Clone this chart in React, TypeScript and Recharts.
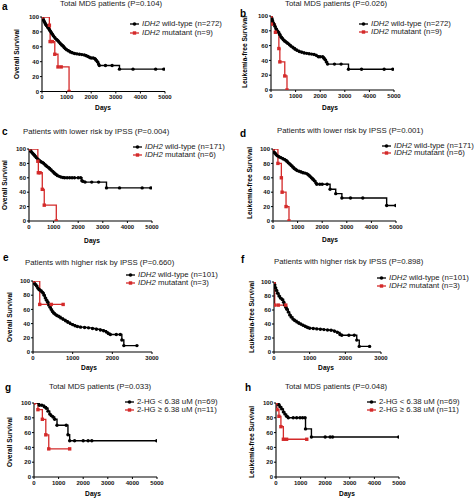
import React from 'react';
import { LineChart, Line, XAxis, YAxis } from 'recharts';

// ---------- DATA (days, survival %) ----------
const aWildType = [[0,100],[30,98],[60,96],[90,94],[120,92],[150,90],[180,88.5],[220,87],[260,85],[300,83],[340,81],[380,79],[420,77],[460,75],[500,73],[550,71],[600,69.5],[650,68],[700,66],[750,64],[800,62.5],[850,61],[900,59],[950,57.5],[1000,56],[1080,54.5],[1150,53],[1230,52],[1320,51],[1420,50.5],[1520,50],[1620,49.5],[1720,49],[1800,48],[1870,47],[1940,45.5],[2000,45],[2080,45],[2150,44],[2200,42],[2250,40],[2300,37],[2330,35],[2580,35],[2850,35],[3150,30],[3700,30],[4620,30],[4950,30]];
const aMutant = [[0,100],[300,89],[330,67],[420,67],[520,50],[650,33],[780,33],[1100,0]];

const bWildType = [[0,100],[30,97],[60,94],[90,91],[120,89],[160,86],[200,83],[250,80],[300,78],[350,75],[400,72],[450,70],[500,68],[560,66],[620,64.5],[680,63],[750,61],[820,59],[900,57],[980,55],[1060,53.5],[1150,52],[1250,51],[1350,50],[1450,49.5],[1550,49],[1650,48.5],[1750,48],[1850,46.5],[1930,45],[2000,45],[2100,45],[2150,43],[2200,41],[2250,38],[2300,35],[2580,35],[2850,35],[3150,28],[3680,28],[4600,28],[4950,28]];
const bMutant = [[0,100],[20,89],[180,78],[320,56],[360,38],[560,19],[650,0]];

const cWildType = [[0,100],[40,98],[80,96.5],[120,95],[160,93.5],[200,92],[250,90],[300,88],[350,86],[400,84.5],[450,83],[500,82],[560,81],[620,79],[680,77],[740,75.5],[800,74],[860,72],[920,70],[980,68],[1040,66],[1100,64.5],[1160,63],[1230,62],[1300,61],[1380,60.5],[1450,60],[1550,60],[1650,60],[1750,60],[1850,60],[2000,60],[2100,60],[2150,56],[2200,55],[2280,54],[2550,54],[2830,54],[3150,46],[3680,46],[4600,46],[4950,46]];
const cMutant = [[0,100],[360,83],[380,67],[450,67],[540,44],[620,22],[1110,0]];

const dWildType = [[0,100],[30,96],[80,94],[130,92],[180,90.5],[250,89],[320,88],[400,86.5],[480,85],[560,83],[620,81],[680,79],[740,77],[800,75],[860,73],[920,71.5],[980,70],[1060,69],[1140,68],[1220,67],[1300,66.5],[1380,65.5],[1440,64],[1500,62],[1560,60],[1620,58],[1680,56],[1740,53],[1780,51],[1900,51],[2000,51],[2200,51],[2320,44],[2550,38],[2800,32],[3150,32],[3650,32],[4620,21.5],[4990,21.5]];
const dMutant = [[0,100],[200,80],[340,60],[370,40],[530,20],[650,0]];

const eWildType = [[0,100],[30,97],[60,95],[90,93],[120,90],[150,88],[180,87],[220,85],[250,83],[280,80],[310,76],[340,73],[370,70],[400,66],[430,63],[460,60],[490,57],[520,55],[560,53],[600,51.5],[650,50],[700,48],[760,46],[820,44],[880,42],[940,40],[1000,38.5],[1060,37],[1120,36],[1200,35],[1300,34.5],[1400,34],[1500,33],[1600,32],[1700,31],[1780,30],[1850,28],[1900,26],[1950,24.6],[2100,24.6],[2200,24.6],[2240,17],[2290,9],[2620,9]];
const eMutant = [[0,100],[170,67],[460,67],[760,67]];

const fWildType = [[0,100],[20,96],[40,92],[70,88],[100,84],[140,80],[180,77],[230,75],[270,71],[300,67],[330,64],[360,61],[400,57],[440,53],[480,50],[530,47],[580,45],[640,43],[700,41],[760,39.5],[820,38],[880,36.5],[940,35],[1000,34],[1100,33.5],[1200,33],[1300,32.5],[1400,32],[1500,31.5],[1600,31],[1700,29.5],[1780,28],[1850,25],[1900,24],[2100,24],[2250,24],[2320,17],[2390,8],[2680,8]];
const fMutant = [[0,100],[20,67],[120,67],[330,67]];

const gLow = [[0,100],[180,100],[220,97],[320,97],[420,95],[500,93],[570,89],[640,85],[700,83],[770,81],[840,78],[935,70],[1310,70],[1380,57],[1450,49],[1650,49],[2000,49],[2200,49],[2350,49],[4990,49]];
const gHigh = [[0,100],[160,91],[340,78],[480,57],[600,38],[1450,38]];

const hLow = [[0,100],[60,99],[100,98],[160,95],[230,92],[300,88],[360,85],[430,82],[500,80],[700,80],[840,80],[975,80],[1080,80],[1180,80],[1200,65],[1440,54],[2000,54],[2200,54],[2300,54],[4990,54]];
const hHigh = [[0,100],[40,91],[120,82],[200,68],[300,51],[430,51],[1250,51]];

const titles = [
  'Total MDS patients (P=0.104)',
  'Total MDS patients (P=0.026)',
  'Patients with lower risk by IPSS (P=0.004)',
  'Patients with lower risk by IPSS (P=0.001)',
  'Patients with higher risk by IPSS (P=0.660)',
  'Patients with higher risk by IPSS (P=0.898)',
  'Total MDS patients (P=0.033)',
  'Total MDS patients (P=0.048)',
];
const panelLetters = ['a', 'b', 'c', 'd', 'e', 'f', 'g', 'h'];
const yLabels = ['Overall Survival', 'Leukemia-free Survival'];
const idhLegend = [
  ['wild-type (n=272)', 'mutatant (n=9)'],
  ['wild-type (n=272)', 'mutatant (n=9)'],
  ['wild-type (n=171)', 'mutatant (n=6)'],
  ['wild-type (n=171)', 'mutatant (n=6)'],
  ['wild-type (n=101)', 'mutatant (n=3)'],
  ['wild-type (n=101)', 'mutatant (n=3)'],
];
const hgLegend = ['2-HG < 6.38 uM (n=69)', '2-HG \u2265 6.38 uM (n=11)'];
const xTicks5000 = [0, 1000, 2000, 3000, 4000, 5000];
const xTicks3000 = [0, 1000, 2000, 3000];
const yTicks = [0, 20, 40, 60, 80, 100];

const toRows = (arr: number[][]) => arr.map(([t, s]) => ({ t, s }));

// ---------- LAYOUT ----------
const FONT = '"Liberation Sans", Arial, Helvetica, sans-serif';
const RED = '#d42a2a';

type Cfg = {
  px: number; py: number; L: number; R: number; T: number; B: number;
  xMax: number; xTicks: number[];
  s1: number[][]; s2: number[][];
  title: [number, number]; letter: [number, number];
  legend: [number, number, number];
  ylab: [number, number]; days: [number, number];
};

const cfgs: Cfg[] = [
  { px: 0, py: 0, L: 42, R: 165, T: 17, B: 91.5, xMax: 5000, xTicks: xTicks5000, s1: aWildType, s2: aMutant,
    title: [60, 4], letter: [2, 6.5], legend: [130, 24, 32.5], ylab: [17, 54], days: [103, 108] },
  { px: 237, py: 0, L: 271, R: 394, T: 16, B: 90, xMax: 5000, xTicks: xTicks5000, s1: bWildType, s2: bMutant,
    title: [285, 4], letter: [240, 13.5], legend: [359, 24, 32], ylab: [245, 52], days: [330, 108] },
  { px: 0, py: 125, L: 29, R: 152, T: 149, B: 221, xMax: 5000, xTicks: xTicks5000, s1: cWildType, s2: cMutant,
    title: [23, 132], letter: [2, 132], legend: [133, 147, 154.5], ylab: [5, 185], days: [92, 241] },
  { px: 237, py: 125, L: 273, R: 396, T: 149, B: 221, xMax: 5000, xTicks: xTicks5000, s1: dWildType, s2: dMutant,
    title: [277, 131], letter: [240, 134], legend: [382, 145.7, 153.3], ylab: [250, 183], days: [330, 240] },
  { px: 0, py: 250, L: 33, R: 152, T: 281, B: 352, xMax: 3000, xTicks: xTicks3000, s1: eWildType, s2: eMutant,
    title: [25, 263], letter: [3, 258], legend: [126, 275, 283], ylab: [10, 317], days: [89, 368] },
  { px: 237, py: 250, L: 274, R: 381, T: 282, B: 352, xMax: 3000, xTicks: xTicks3000, s1: fWildType, s2: fMutant,
    title: [274, 262], letter: [241, 260], legend: [377, 278.3, 286], ylab: [252, 317], days: [326, 368] },
  { px: 0, py: 375, L: 34, R: 157, T: 403, B: 477, xMax: 5000, xTicks: xTicks5000, s1: gLow, s2: gHigh,
    title: [49, 387], letter: [5, 388], legend: [125, 402, 410], ylab: [10, 442], days: [93, 494] },
  { px: 237, py: 375, L: 276, R: 399, T: 403, B: 477, xMax: 5000, xTicks: xTicks5000, s1: hLow, s2: hHigh,
    title: [285, 387], letter: [245, 388], legend: [367, 402, 410], ylab: [252, 442], days: [347, 494] },
];

const PW = 237, PH = 125, YW = 24, XH = 14;

const tickStyle = { fontSize: 6, fill: '#111', fontWeight: 700, fontFamily: FONT };

function Txt(props: { x: number; y: number; size: number; bold?: boolean; anchor?: 'start' | 'middle'; rotate?: boolean; color?: string; children: React.ReactNode }) {
  const { x, y, size, bold, anchor = 'start', rotate, color = '#1a1a1a', children } = props;
  const tx = anchor === 'middle' ? '-50%' : '0';
  return (
    <div style={{
      position: 'absolute', left: x, top: y, fontSize: size, fontFamily: FONT, fontWeight: bold ? 700 : 400,
      lineHeight: 1, whiteSpace: 'nowrap', color,
      transform: `translate(${tx}, -50%)${rotate ? ' rotate(-90deg)' : ''}`,
      transformOrigin: rotate ? '50% 50%' : undefined,
    }}>{children}</div>
  );
}

function RedSquare(p: any) {
  const { cx, cy, index } = p;
  if (cx == null || cy == null) return <g key={`rs${index}`} />;
  return <rect key={`rs${index}`} x={cx - 1.7} y={cy - 1.7} width={3.4} height={3.4} fill={RED} />;
}

function LegendRow({ x, y, kind, children }: { x: number; y: number; kind: 'black' | 'red'; children: React.ReactNode }) {
  const color = kind === 'black' ? '#000' : RED;
  return (
    <>
      <svg style={{ position: 'absolute', left: x, top: y - 3 }} width={10} height={6}>
        <line x1={0} y1={3} x2={9} y2={3} stroke={color} strokeWidth={1.3} />
        {kind === 'black' ? <circle cx={4.5} cy={3} r={1.8} fill={color} /> : <rect x={2.8} y={1.3} width={3.4} height={3.4} fill={color} />}
      </svg>
      <Txt x={x + 12} y={y} size={7.8}>{children}</Txt>
    </>
  );
}

function Panel({ cfg }: { cfg: Cfg }) {
  const { px, py, L, R, T, B, xMax, xTicks, s1, s2 } = cfg;
  const margin = { left: L - px - YW, right: px + PW - R, top: T - py, bottom: py + PH - B - XH };
  return (
    <div style={{ position: 'absolute', left: px, top: py, width: PW, height: PH }}>
      <LineChart width={PW} height={PH} margin={margin}>
        <XAxis type="number" dataKey="t" domain={[0, xMax]} ticks={xTicks} interval={0} height={XH}
          tick={tickStyle} tickSize={2} tickMargin={1.5} axisLine={{ stroke: '#000', strokeWidth: 1.1 }}
          tickLine={{ stroke: '#000' }} allowDataOverflow />
        <YAxis type="number" dataKey="s" domain={[0, 100]} ticks={yTicks} interval={0} width={YW}
          tick={tickStyle} tickSize={2} tickMargin={1} axisLine={{ stroke: '#000', strokeWidth: 1.1 }}
          tickLine={{ stroke: '#000' }} allowDataOverflow />
        <Line data={toRows(s1)} dataKey="s" type="stepAfter" stroke="#000" strokeWidth={1.4}
          dot={{ r: 1.7, fill: '#000', stroke: 'none' }} isAnimationActive={false} />
        <Line data={toRows(s2)} dataKey="s" type="stepAfter" stroke={RED} strokeWidth={1.3}
          dot={RedSquare} isAnimationActive={false} />
      </LineChart>
    </div>
  );
}

export default function App() {
  return (
    <div style={{ position: 'absolute', left: 0, top: 0, width: 474, height: 500, background: '#fff', overflow: 'hidden' }}>
      {cfgs.map((c, i) => <Panel key={i} cfg={c} />)}
      {cfgs.map((c, i) => (
        <React.Fragment key={`t${i}`}>
          <Txt x={c.letter[0]} y={c.letter[1]} size={10} bold color="#000">{panelLetters[i]}</Txt>
          <Txt x={c.title[0]} y={c.title[1]} size={7.8}>{titles[i]}</Txt>
          <Txt x={c.days[0]} y={c.days[1]} size={6.6} bold anchor="middle" color="#000">Days</Txt>
          <Txt x={c.ylab[0]} y={c.ylab[1]} size={6.6} bold anchor="middle" rotate color="#000">{yLabels[i % 2]}</Txt>
          {i < 6 ? (
            <>
              <LegendRow x={c.legend[0]} y={c.legend[1]} kind="black"><i>IDH2</i> {idhLegend[i][0]}</LegendRow>
              <LegendRow x={c.legend[0]} y={c.legend[2]} kind="red"><i>IDH2</i> {idhLegend[i][1]}</LegendRow>
            </>
          ) : (
            <>
              <LegendRow x={c.legend[0]} y={c.legend[1]} kind="black">{hgLegend[0]}</LegendRow>
              <LegendRow x={c.legend[0]} y={c.legend[2]} kind="red">{hgLegend[1]}</LegendRow>
            </>
          )}
        </React.Fragment>
      ))}
    </div>
  );
}
